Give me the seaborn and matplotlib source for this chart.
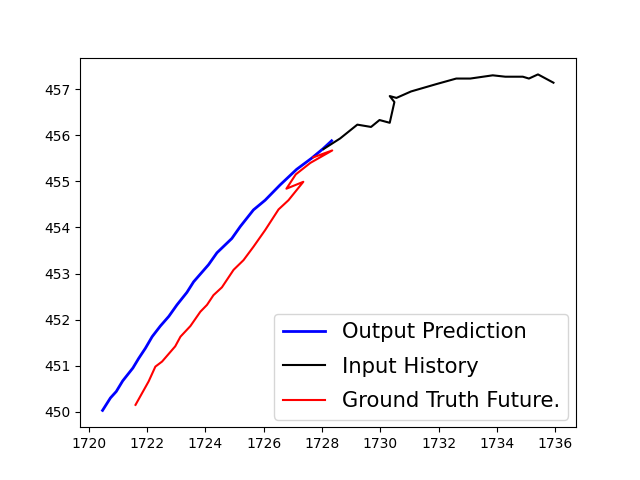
import matplotlib
matplotlib.use("Agg")
import matplotlib.pyplot as plt
import seaborn as sns

# Input history (black)
hist_x = [1728.05, 1728.62, 1729.21, 1729.68, 1729.97, 1730.32, 1730.48, 1730.32, 1730.55,
          1731.05, 1731.92, 1732.60, 1733.08, 1733.85, 1734.28, 1734.88, 1735.09, 1735.40, 1735.93]
hist_y = [455.70, 455.93, 456.23, 456.18, 456.33, 456.27, 456.72, 456.85, 456.81,
          456.95, 457.11, 457.23, 457.23, 457.30, 457.27, 457.27, 457.23, 457.32, 457.14]

# Output prediction (blue)
pred_x = [1728.33, 1728.04, 1727.64, 1727.13, 1726.56, 1726.05, 1725.65, 1725.20, 1724.91,
          1724.40, 1724.11, 1723.60, 1723.37, 1723.03, 1722.75, 1722.46, 1722.18, 1721.95,
          1721.72, 1721.52, 1721.17, 1720.95, 1720.75, 1720.48]
pred_y = [455.88, 455.71, 455.50, 455.26, 454.92, 454.59, 454.38, 454.02, 453.76,
          453.45, 453.19, 452.82, 452.59, 452.32, 452.07, 451.86, 451.63, 451.38,
          451.16, 450.95, 450.67, 450.44, 450.30, 450.03]

# Ground truth future (red)
true_x = [1727.70, 1728.35, 1727.60, 1727.10, 1726.78, 1727.36, 1726.85, 1726.51, 1726.05,
          1725.65, 1725.31, 1724.97, 1724.57, 1724.28, 1724.06, 1723.83, 1723.49, 1723.15,
          1722.97, 1722.52, 1722.29, 1722.06, 1721.61]
true_y = [455.52, 455.67, 455.40, 455.15, 454.84, 454.99, 454.59, 454.39, 453.94,
          453.58, 453.29, 453.08, 452.70, 452.53, 452.32, 452.17, 451.86, 451.63,
          451.42, 451.09, 450.98, 450.66, 450.15]

fig, ax = plt.subplots(figsize=(6.4, 4.8), dpi=100)

sns.lineplot(x=pred_x, y=pred_y, sort=False, estimator=None, color='blue', linewidth=2,
             label='Output Prediction', ax=ax)
sns.lineplot(x=hist_x, y=hist_y, sort=False, estimator=None, color='black', linewidth=1.5,
             label='Input History', ax=ax)
sns.lineplot(x=true_x, y=true_y, sort=False, estimator=None, color='red', linewidth=1.5,
             label='Ground Truth Future.', ax=ax)

ax.legend(loc='lower right', fontsize=15.2, labelspacing=0.68, borderaxespad=0.36)
plt.savefig('out.png', dpi=100)
